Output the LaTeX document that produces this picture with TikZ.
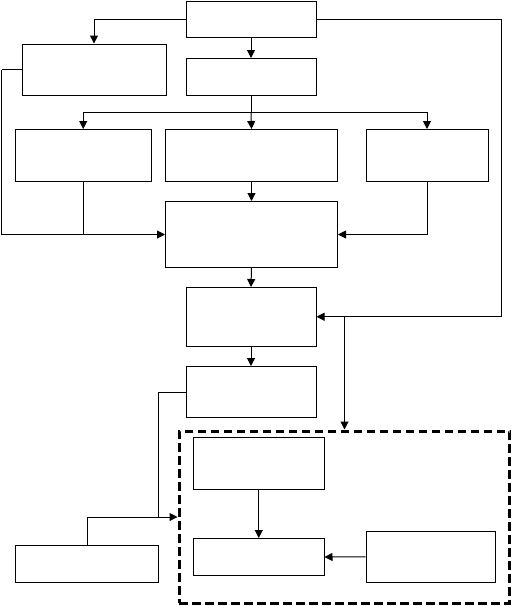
\documentclass[tikz,border=0pt]{standalone}
\usetikzlibrary{arrows.meta}
\begin{document}
\begin{tikzpicture}[x=1pt,y=-1pt,
  box/.style={draw,line width=1pt,inner sep=0pt,minimum width=#1},
  dbox/.style={draw,line width=3pt,dash pattern=on 8.5pt off 4.5pt,inner sep=0pt},
  conn/.style={line width=1pt},
  arr/.style={line width=1pt,-{Triangle[length=8pt,width=8pt]}}]
\useasboundingbox (0,0) rectangle (512,606);
\node[box=130pt,minimum height=36.5pt] (A) at (251,19.25) {};
\node[box=144pt,minimum height=51pt] (B) at (94,69.5) {};
\node[box=130pt,minimum height=37pt] (C) at (251,77) {};
\node[box=135.5pt,minimum height=51.5pt] (D1) at (83.25,155.25) {};
\node[box=172pt,minimum height=51.5pt] (D2) at (251.5,155.25) {};
\node[box=122pt,minimum height=51.5pt] (D3) at (427,155.25) {};
\node[box=172pt,minimum height=66pt] (E) at (251.5,234.5) {};
\node[box=130pt,minimum height=58.5pt] (F) at (251,316.75) {};
\node[box=130pt,minimum height=51pt] (G) at (251,392) {};
\node[box=143pt,minimum height=37.5pt] (H) at (87,563.75) {};
\node[dbox,minimum width=330.5pt,minimum height=172pt] (DB) at (344.25,517) {};
\node[box=130.5pt,minimum height=52pt] (I1) at (258.75,463.5) {};
\node[box=130.5pt,minimum height=37pt] (I2) at (258.75,557) {};
\node[box=129pt,minimum height=51.5pt] (I3) at (430.5,556.75) {};
\coordinate (c1) at (251,112.7);
\coordinate (L1) at (1.5,69.5);
\coordinate (R1) at (501,19.25);
\coordinate (J) at (344.5,316.75);
\coordinate (K) at (158.5,392);
% connectors
\draw[arr] (A.west) -| (B.north);
\draw[arr] (A.south) -- (C.north);
\draw[conn] (C.south) -- (c1);
\draw[arr] (c1) -| (D1.north);
\draw[arr] (c1) -| (D3.north);
\draw[arr] (c1) -- (D2.north);
\draw[conn] (B.west) -- (L1);
\draw[arr] (L1) |- (E.west);
\draw[conn] (D1.south) -- (D1.south |- E.west);
\draw[arr] (D2.south) -- (E.north);
\draw[arr] (D3.south) |- (E.east);
\draw[conn] (A.east) -- (R1);
\draw[arr] (R1) |- (F.east);
\draw[arr] (J) -- (J |- DB.north);
\draw[arr] (E.south) -- (F.north);
\draw[arr] (F.south) -- (G.north);
\draw[conn] (G.west) -- (K);
\draw[arr] (K) |- (DB.west);
\draw[conn] (H.north) |- (K |- DB.west);
\draw[arr] (I1.south) -- (I2.north);
\draw[arr] (I3.west) -- (I2.east);
\end{tikzpicture}
\end{document}
